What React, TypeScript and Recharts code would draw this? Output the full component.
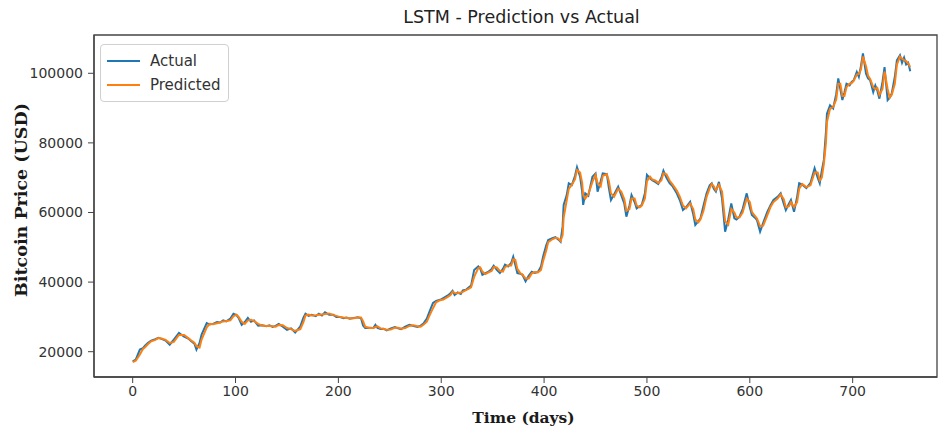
import React from "react";
import { LineChart, Line, XAxis, YAxis, Legend, ReferenceArea } from "recharts";

const days = [
  0, 3, 7, 10, 12, 15, 18, 22, 25, 28, 32, 36, 40, 45, 50, 54, 57, 60, 62, 65, 67, 72, 75, 78, 82, 85, 88, 91, 95, 98,
  101, 103, 106, 109, 112, 115, 118, 122, 126, 130, 133, 136, 139, 142, 146, 150, 154, 158, 163, 166, 168, 171, 174, 178, 181, 184, 187, 191, 195, 198,
  201, 205, 208, 211, 215, 219, 222, 224, 226, 230, 234, 236, 238, 241, 244, 247, 251, 255, 258, 261, 265, 269, 273, 277, 280, 283, 286, 288, 292, 295,
  299, 302, 306, 309, 311, 313, 316, 319, 321, 324, 326, 329, 332, 336, 338, 340, 343, 346, 349, 351, 354, 357, 360, 362, 365, 368, 370, 372, 374, 377,
  379, 382, 385, 388, 391, 394, 397, 399, 402, 404, 408, 411, 414, 416, 418, 419, 422, 424, 427, 430, 432, 435, 437, 438, 440, 443, 447, 450, 452, 455,
  457, 461, 463, 465, 468, 472, 475, 478, 480, 483, 485, 488, 490, 493, 495, 498, 500, 503, 505, 508, 511, 514, 516, 519, 522, 525, 529, 532, 535, 538,
  542, 545, 547, 550, 552, 555, 558, 561, 563, 565, 567, 570, 573, 576, 579, 582, 585, 587, 590, 593, 597, 600, 602, 605, 607, 610, 613, 617, 620, 623,
  627, 630, 633, 635, 638, 640, 643, 646, 648, 651, 655, 659, 663, 666, 668, 670, 672, 674, 675, 678, 681, 684, 686, 688, 690, 692, 694, 697, 699, 701,
  704, 706, 708, 710, 713, 715, 717, 720, 722, 724, 726, 729, 731, 734, 736, 738, 741, 743, 746, 748, 750, 752, 754, 756,
];

const actual = [
  17200, 17700, 20600, 21000, 21700, 22600, 23200, 23600, 24000, 23700, 23200, 22000, 23500, 25400, 24300, 23800, 23000, 22300, 20600, 22500, 24900, 28200, 27800, 28000, 28500, 28400, 29000, 28700, 29500, 30900,
  30500, 29700, 27700, 28500, 29700, 28600, 29000, 27500, 27600, 27300, 27600, 27100, 27400, 28000, 27200, 26300, 26700, 25500, 27300, 29800, 30900, 30300, 30600, 30200, 30900, 30400, 31300, 30600, 30600, 30000,
  30000, 29600, 29800, 29500, 29700, 29900, 29600, 27500, 26800, 26900, 26800, 27700, 26800, 26500, 26600, 26100, 26700, 27100, 26700, 26500, 27200, 27700, 27400, 27100, 27500, 28200, 29500, 31100, 34000, 34600,
  34900, 35400, 36100, 36800, 37500, 36300, 37000, 36600, 37600, 37800, 38300, 39000, 43500, 44500, 43800, 42100, 42600, 43000, 43800, 44700, 43500, 42600, 43800, 45000, 44500, 45500, 47300, 45000, 42600, 42400,
  42100, 40200, 41800, 43000, 42600, 42900, 44500, 47300, 50500, 52100, 52600, 52900, 52200, 51600, 56000, 62200, 65000, 68400, 67900, 70500, 73000, 70300, 66000, 62200, 65500, 64800, 70300, 71200, 66000, 69000,
  71200, 71000, 67000, 63600, 65200, 67400, 65000, 62500, 58800, 62000, 65000, 63000, 61200, 61800, 62200, 65500, 70800, 69800, 69300, 68800, 68200, 70000, 72000, 70000, 68400, 67500, 65500, 63500, 60700, 61500,
  63100, 59500, 56400, 57500, 58300, 62000, 65500, 67800, 68400, 66800, 66000, 68800, 64000, 54500, 58000, 62600, 58300, 58000, 58800, 61000, 65500, 61500, 59300, 58500, 57800, 54500, 57000, 60200, 62000, 63600,
  64500, 65500, 62500, 60700, 62500, 63600, 60200, 64500, 68400, 68000, 67000, 68500, 72700, 70000, 68400, 72000, 75100, 83000, 88400, 90800, 89900, 94000, 98500, 95500, 92300, 94500, 97000, 96500, 97500, 98000,
  100400, 99000, 102000, 105700, 99900, 98500, 98000, 94600, 96500, 95000, 92700, 97500, 101800, 92300, 93000, 94200, 99000, 103700, 105200, 103000, 104500, 102500, 103000, 100600,
];

const predicted = [
  17000, 17400, 19200, 20800, 21300, 22200, 23000, 23400, 23900, 23800, 23400, 22500, 22800, 24800, 24800, 23900, 23200, 22600, 21600, 21200, 23500, 27000, 28000, 27900, 28200, 28400, 28700, 28800, 29000, 30200,
  30600, 30000, 28600, 28000, 29000, 29200, 28800, 28000, 27500, 27400, 27400, 27300, 27200, 27700, 27600, 26800, 26500, 26000, 26500, 28500, 30400, 30700, 30400, 30500, 30600, 30700, 30800, 31000, 30500, 30300,
  30000, 29800, 29700, 29600, 29600, 29800, 29800, 28800, 27200, 26800, 26800, 27100, 27300, 26700, 26500, 26300, 26400, 26900, 26900, 26600, 26800, 27400, 27600, 27300, 27200, 27800, 28600, 30000, 32500, 34200,
  34800, 35000, 35700, 36300, 37200, 36900, 36800, 37000, 37200, 37700, 38000, 38500, 41500, 44000, 44200, 43000, 42300, 42800, 43200, 44300, 44200, 43200, 43000, 44300, 44800, 44800, 46500, 46400, 43800, 42500,
  42200, 41000, 41000, 42500, 42900, 42800, 43500, 46000, 49000, 51500, 52300, 52700, 52500, 51800, 53500, 58500, 63500, 66800, 68000, 69500, 72200, 71500, 68500, 65000, 64000, 65200, 68800, 70800, 68500, 67500,
  70500, 71000, 69000, 65500, 64500, 66800, 66000, 63800, 60500, 61000, 64000, 64000, 62000, 61500, 62000, 64000, 69000, 70300, 69500, 69200, 68500, 69200, 71300, 71000, 69200, 68000, 66300, 64500, 62000, 61200,
  62600, 61000, 58000, 57200, 58000, 60500, 64500, 67000, 68200, 67500, 66400, 68000, 66000, 57500, 56500, 61000, 60000, 58500, 58600, 60000, 64000, 63000, 60200, 59000, 58300, 56000, 56200, 59200, 61500, 63000,
  64000, 65200, 63800, 61500, 61800, 63000, 61500, 63000, 66800, 68200, 67300, 67800, 71500, 71500, 69200, 70000, 74000, 80000, 86000, 89800, 90300, 92500, 97000, 97000, 93500, 93500, 96000, 97000, 97200, 97800,
  99600, 99800, 101000, 104800, 102000, 99300, 98400, 96000, 95500, 95800, 93800, 95500, 100500, 95500, 93000, 93800, 97000, 102500, 104800, 104200, 103800, 103500, 102800, 101800,
];

const xTicks = [0, 100, 200, 300, 400, 500, 600, 700];
const yTicks = [20000, 40000, 60000, 80000, 100000];

const data = days.map((d, i) => ({ day: d, actual: actual[i], predicted: predicted[i] }));

const X_MIN = -37.6;
const X_MAX = 782;
const Y_MIN = 12730;
const Y_MAX = 111000;

const tickStyle = { fontFamily: "DejaVu Sans", fontSize: 14, fill: "#333" };
const axisLabelStyle = { fontFamily: "DejaVu Serif", fontWeight: "bold" as const, fill: "#1a1a1a" };

function XLabel(props: any) {
  const vb = props.viewBox || { x: 0, y: 0, width: 0, height: 0 };
  return (
    <text x={vb.x + vb.width / 2 + 8} y={vb.y + 46} textAnchor="middle" style={{ ...axisLabelStyle, fontSize: 15.5 }}>
      Time (days)
    </text>
  );
}

function YLabel(props: any) {
  const vb = props.viewBox || { x: 0, y: 0, width: 0, height: 0 };
  const cx = 21;
  const cy = vb.y + vb.height / 2 - 6;
  return (
    <text
      x={cx}
      y={cy}
      textAnchor="middle"
      dominantBaseline="central"
      transform={`rotate(-90, ${cx}, ${cy})`}
      style={{ ...axisLabelStyle, fontSize: 17.5 }}
    >
      Bitcoin Price (USD)
    </text>
  );
}

function LegendBox(props: any) {
  const payload = props.payload || [];
  return (
    <div
      style={{
        border: "1px solid #d0d0d0",
        borderRadius: 4,
        background: "rgba(255,255,255,0.85)",
        padding: "4px 8px 4px 6px",
        fontFamily: "DejaVu Sans",
        fontSize: 15,
        color: "#333",
        lineHeight: "24px",
      }}
    >
      {payload.map((p: any) => (
        <div key={p.value} style={{ display: "flex", alignItems: "center" }}>
          <svg width={33} height={10} style={{ marginRight: 10 }}>
            <line x1={0} y1={5} x2={33} y2={5} stroke={p.color} strokeWidth={2} />
          </svg>
          <span>{p.value}</span>
        </div>
      ))}
    </div>
  );
}

export default function App() {
  return (
    <div style={{ position: "absolute", left: 0, top: 0, width: 939, height: 430, background: "#fff", fontFamily: "DejaVu Sans" }}>
      <div
        style={{
          position: "absolute",
          left: 94,
          width: 855,
          top: 7,
          textAlign: "center",
          fontFamily: "DejaVu Sans",
          fontSize: 17.5,
          color: "#222",
        }}
      >
        LSTM - Prediction vs Actual
      </div>
      <LineChart width={939} height={430} data={data} margin={{ top: 35, right: 2, bottom: 0, left: 0 }}>
        <XAxis
          dataKey="day"
          type="number"
          domain={[X_MIN, X_MAX]}
          ticks={xTicks}
          allowDataOverflow
          height={53}
          tick={tickStyle}
          tickSize={6}
          tickMargin={3}
          stroke="#444"
          axisLine={{ stroke: "#444", strokeWidth: 1.3 }}
          tickLine={{ stroke: "#444" }}
          label={<XLabel />}
        />
        <YAxis
          type="number"
          domain={[Y_MIN, Y_MAX]}
          ticks={yTicks}
          allowDataOverflow
          width={94}
          tick={tickStyle}
          tickSize={6}
          tickMargin={5}
          stroke="#444"
          axisLine={{ stroke: "#444", strokeWidth: 1.3 }}
          tickLine={{ stroke: "#444" }}
          label={<YLabel />}
        />
        <Line type="linear" dataKey="actual" name="Actual" stroke="#1f77b4" strokeWidth={2} dot={false} isAnimationActive={false} />
        <Line type="linear" dataKey="predicted" name="Predicted" stroke="#ff7f0e" strokeWidth={2} dot={false} isAnimationActive={false} />
        <ReferenceArea x1={X_MIN} x2={X_MAX} y1={Y_MIN} y2={Y_MAX} fill="none" stroke="#444" strokeWidth={1.3} />
        <Legend
          layout="horizontal"
          verticalAlign="middle"
          align="center"
          content={<LegendBox />}
          wrapperStyle={{ position: "absolute", left: 100, top: 44, width: "auto", height: "auto" }}
        />
      </LineChart>
    </div>
  );
}
